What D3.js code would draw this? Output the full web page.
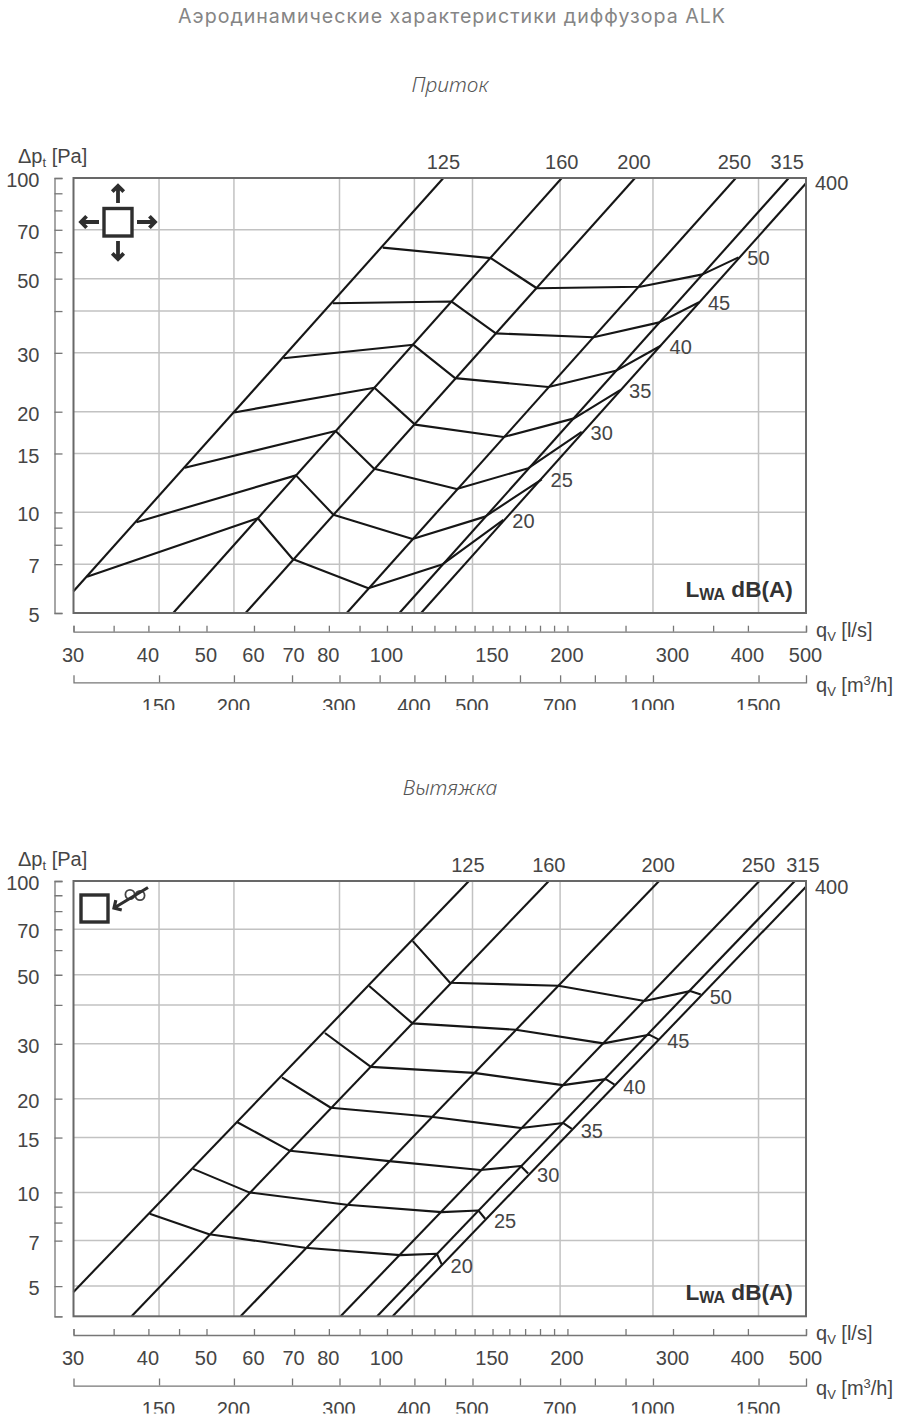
<!DOCTYPE html>
<html>
<head>
<meta charset="utf-8">
<script src="https://cdn.jsdelivr.net/npm/d3@7"></script>
<style>
body { margin: 0; background: #fff; }
svg { display: block; }
text { font-family: "Liberation Sans", Arial, sans-serif; fill: #454545; }
.num text, text.num { font-size: 20px; }
.title { font-family: "Inter", sans-serif; font-weight: 400; font-size: 19.6px; fill: #858585; letter-spacing: 1px; }
.sub { font-family: "Noto Sans", sans-serif; font-style: italic; font-weight: 300; font-size: 21px; fill: #555; }
</style>
</head>
<body>
<script>
//chart values, q in l/s and dp in Pa
var sizeLabels = ["125", "160", "200", "250", "315", "400"];
var levelLabels = ["50", "45", "40", "35", "30", "25", "20"];

var flowTicks = [30, 35, 40, 45, 50, 60, 70, 80, 90, 100, 110, 120, 130, 140, 150, 160, 170, 180, 190, 200, 250, 300, 350, 400, 500];
var flowLabels = [30, 40, 50, 60, 70, 80, 100, 150, 200, 300, 400, 500];
var volumeTicks = [150, 200, 250, 300, 350, 400, 450, 500, 600, 700, 800, 900, 1000, 1500];
var volumeLabels = [150, 200, 300, 400, 500, 700, 1000, 1500];
var volumeGrid = [150, 200, 300, 400, 500, 700, 1000, 1500];
var pressureTicks = [100, 90, 80, 70, 60, 50, 40, 30, 20, 15, 10, 9, 8, 7, 5];
var pressureLabels = [100, 70, 50, 30, 20, 15, 10, 7, 5];
var supplyGrid = [70, 50, 40, 30, 20, 15, 10, 7];
var extractGrid = [70, 50, 40, 30, 20, 15, 10, 7, 5];

var supplySizes = [
    [[30, 5.81], [124.2, 100]],
    [[44.0, 5], [195.7, 100]],
    [[58.1, 5], [259.3, 100]],
    [[85.7, 5], [381.9, 100]],
    [[104.9, 5], [468, 100]],
    [[114, 5], [500, 96.4]]
];
var supply50 = [[98.4, 61.9], [149.0, 57.6], [177.8, 46.8], [264.4, 47.3], [336, 51.5], [385.8, 57.9]];
var supply45 = [[81.2, 42.2], [128.2, 42.7], [151.9, 34.3], [221, 33.4], [284.7, 37.0], [331.6, 42.5]];
var supply40 = [[67.2, 28.9], [110.7, 31.7], [129.9, 25.2], [185.9, 23.7], [240.8, 26.5], [286.2, 31.5]];
var supply35 = [[55.6, 19.9], [95.3, 23.6], [111.4, 18.3], [156.4, 16.8], [205.2, 19.1], [244.9, 23.2]];
var supply30 = [[46.0, 13.6], [82.1, 17.5], [95.2, 13.5], [130.7, 11.75], [172.1, 13.55], [211.3, 17.4]];
var supply25 = [[38.2, 9.34], [70.5, 12.9], [81.4, 9.84], [110.3, 8.33], [145.8, 9.71], [181.2, 12.56]];
var supply20 = [[31.6, 6.42], [60.9, 9.60], [69.6, 7.25], [93.1, 5.93], [123.9, 7.00], [156.4, 9.49]];

var extractSizes = [
    [[30, 4.79], [137.0, 100]],
    [[37.5, 4], [186.2, 100]],
    [[57.0, 4], [284.4, 100]],
    [[83.7, 4], [418, 100]],
    [[96.3, 4], [479, 100]],
    [[102.2, 4], [500, 95.9]]
];
var extract50 = [[110.4, 64.1], [127.4, 47.1], [193.2, 46.1], [268.9, 41.2], [320.4, 44.3], [333.8, 43.2]];
var extract45 = [[93.4, 46.0], [110.3, 34.9], [164, 33.3], [229.6, 30.1], [273.7, 32.1], [283.6, 31.0]];
var extract40 = [[78.8, 32.5], [94.0, 25.3], [139.7, 24.2], [196.5, 22.1], [231.8, 23.1], [239.6, 22.2]];
var extract35 = [[66.8, 23.4], [80.6, 18.7], [118.4, 17.5], [167.4, 16.1], [196.9, 16.7], [203.4, 16.0]];
var extract30 = [[56.3, 16.8], [68.9, 13.6], [100.9, 12.6], [143.3, 11.8], [167.2, 12.15], [172, 11.5]];
var extract25 = [[47.5, 11.9], [58.9, 10.0], [85.7, 9.13], [123.4, 8.64], [142, 8.75], [145.8, 8.23]];
var extract20 = [[40.2, 8.54], [50.5, 7.34], [73.0, 6.64], [105.2, 6.29], [121.1, 6.35], [123.4, 5.87]];

var left = 73.5, right = 806;

var svg = d3.select("body").append("svg")
    .attr("width", 900)
    .attr("height", 1421);

svg.append("text").attr("class", "title").attr("x", 452).attr("y", 23)
    .attr("text-anchor", "middle").text("Аэродинамические характеристики диффузора ALK");
svg.append("text").attr("class", "sub").attr("x", 450).attr("y", 92)
    .attr("text-anchor", "middle").text("Приток");
svg.append("text").attr("class", "sub").attr("x", 450).attr("y", 795)
    .attr("text-anchor", "middle").text("Вытяжка");

//x scales are shared, m3/h is the same log axis times 3.6
var xScale = d3.scaleLog().domain([30, 500]).range([left, right]);
var volumeScale = d3.scaleLog().domain([30 * 3.6, 500 * 3.6]).range([left, right]);

drawChart({
    top: 178, bottom: 613, minP: 5, ticks: pressureTicks, grid: supplyGrid,
    sizes: supplySizes, levels: [supply50, supply45, supply40, supply35, supply30, supply25, supply20],
    shift: [0, 0, -1, -1.5, -1.5], clipBottom: 710, labelDy: 1
});
drawChart({
    top: 881, bottom: 1316.3, minP: 4, ticks: pressureTicks.concat([4]), grid: extractGrid,
    sizes: extractSizes, levels: [extract50, extract45, extract40, extract35, extract30, extract25, extract20],
    shift: [-1, 0, -1, -1, 8], clipBottom: 1413.5, labelDy: 2
});

drawSupplyIcon();
drawExtractIcon();

function drawChart(c) {
    var yScale = d3.scaleLog().domain([c.minP, 100]).range([c.bottom, c.top]);
    var line = d3.line()
        .x(function(d) { return xScale(d[0]); })
        .y(function(d) { return yScale(d[1]); });
    var id = "clip" + c.top;

    svg.append("clipPath").attr("id", id).append("rect")
        .attr("width", 900).attr("y", c.top - 60).attr("height", c.clipBottom - c.top + 60);
    var g = svg.append("g").attr("clip-path", "url(#" + id + ")");

    //grid
    g.selectAll(".gy").data(c.grid).enter().append("line")
        .attr("x1", left).attr("x2", right)
        .attr("y1", function(d) { return yScale(d); })
        .attr("y2", function(d) { return yScale(d); })
        .attr("stroke", "#c2c2c2").attr("stroke-width", 1.5);
    g.selectAll(".gx").data(volumeGrid).enter().append("line")
        .attr("y1", c.top).attr("y2", c.bottom)
        .attr("x1", function(d) { return volumeScale(d); })
        .attr("x2", function(d) { return volumeScale(d); })
        .attr("stroke", "#c2c2c2").attr("stroke-width", 1.5);

    //diffuser size lines
    g.selectAll(".size").data(c.sizes).enter().append("path")
        .attr("d", line).attr("fill", "none")
        .attr("stroke", "#161616").attr("stroke-width", 2.1);

    //sound level lines
    g.selectAll(".level").data(c.levels).enter().append("path")
        .attr("d", line).attr("fill", "none")
        .attr("stroke", "#161616").attr("stroke-width", 2.1).attr("stroke-linejoin", "round");

    //frame
    g.append("rect")
        .attr("x", left).attr("y", c.top)
        .attr("width", right - left).attr("height", c.bottom - c.top)
        .attr("fill", "none").attr("stroke", "#686868").attr("stroke-width", 2);

    //pressure axis
    var yAxis = d3.axisLeft(yScale)
        .tickValues(c.ticks)
        .tickSize(-8)
        .tickPadding(15)
        .tickFormat(function(d) { return pressureLabels.indexOf(d) >= 0 ? d : ""; });
    styleAxis(g.append("g").attr("class", "num")
        .attr("transform", "translate(54.5,0)")
        .call(yAxis))
        .selectAll("text").attr("dy", "0.43em");

    //l/s axis
    var flowAxis = d3.axisBottom(xScale)
        .tickValues(flowTicks)
        .tickSize(-6)
        .tickPadding(16)
        .tickFormat(function(d) { return flowLabels.indexOf(d) >= 0 ? d : ""; });
    var fa = styleAxis(g.append("g").attr("class", "num")
        .attr("transform", "translate(0," + (c.bottom + 18.7) + ")")
        .call(flowAxis));
    fa.selectAll("text").attr("dx", -1);

    //m3/h axis
    var volumeAxis = d3.axisBottom(volumeScale)
        .tickValues(volumeTicks)
        .tickSize(-7)
        .tickPadding(16.5)
        .tickFormat(function(d) { return volumeLabels.indexOf(d) >= 0 ? d : ""; });
    var va = styleAxis(g.append("g").attr("class", "num")
        .attr("transform", "translate(0," + (c.bottom + 69.3) + ")")
        .call(volumeAxis));
    va.selectAll("text").attr("dx", -1);

    //size labels above the frame
    g.selectAll(".sl").data(sizeLabels.slice(0, 5)).enter().append("text")
        .attr("class", "num")
        .attr("text-anchor", "middle")
        .attr("x", function(d, i) { return xScale(c.sizes[i][1][0]) + c.shift[i]; })
        .attr("y", c.top - 9)
        .text(function(d) { return d; });
    g.append("text").attr("class", "num")
        .attr("x", 815)
        .attr("y", yScale(c.sizes[5][1][1]) + 7)
        .text(sizeLabels[5]);

    //level labels next to the last point of each line
    g.selectAll(".ll").data(c.levels).enter().append("text")
        .attr("class", "num")
        .attr("text-anchor", "middle")
        .attr("x", function(d) { return xScale(d[5][0]) + 20; })
        .attr("y", function(d) { return yScale(d[5][1]) + 7 + c.labelDy; })
        .text(function(d, i) { return levelLabels[i]; });

    //unit labels
    g.append("text").attr("class", "num").attr("x", 18).attr("y", c.top - 14.7)
        .html('Δp<tspan dy="4" font-size="13">t</tspan><tspan dy="-4"> [Pa]</tspan>');
    g.append("text").attr("class", "num").attr("x", 816).attr("y", c.bottom + 24)
        .html('q<tspan dy="4" font-size="13">V</tspan><tspan dy="-4"> [l/s]</tspan>');
    g.append("text").attr("class", "num").attr("x", 816).attr("y", c.bottom + 78.7)
        .html('q<tspan dy="4" font-size="13">V</tspan><tspan dy="-4"> [m</tspan><tspan dy="-7" font-size="13">3</tspan><tspan dy="7">/h]</tspan>');

    g.append("text").attr("x", 685.5).attr("y", c.bottom - 16.5)
        .attr("font-weight", "bold").attr("font-size", 22.6).style("fill", "#333")
        .html('L<tspan dy="3" font-size="16">WA</tspan><tspan dy="-3"> dB(A)</tspan>');
}

function styleAxis(a) {
    a.selectAll("path").attr("stroke", "#777").attr("stroke-width", 1.3);
    a.selectAll("line").attr("stroke", "#777").attr("stroke-width", 1.3);
    a.attr("font-family", null).attr("font-size", null);
    return a;
}

function arrow(g, x1, y1, x2, y2, w) {
    var a = Math.atan2(y2 - y1, x2 - x1), s = 8;
    g.append("path")
        .attr("d", "M" + x1 + " " + y1 + "L" + x2 + " " + y2 +
            "M" + (x2 - s * Math.cos(a - 0.8)) + " " + (y2 - s * Math.sin(a - 0.8)) +
            "L" + x2 + " " + y2 +
            "L" + (x2 - s * Math.cos(a + 0.8)) + " " + (y2 - s * Math.sin(a + 0.8)))
        .attr("fill", "none").attr("stroke", "#2e2e2e").attr("stroke-width", w);
}

function drawSupplyIcon() {
    var g = svg.append("g");
    g.append("rect").attr("x", 104).attr("y", 208.5).attr("width", 28).attr("height", 27.5)
        .attr("fill", "#fff").attr("stroke", "#2e2e2e").attr("stroke-width", 3.4);
    arrow(g, 118, 203, 118, 186, 3.8);
    arrow(g, 118, 241, 118, 259, 3.8);
    arrow(g, 99, 222, 81, 222, 3.8);
    arrow(g, 137, 222, 155, 222, 3.8);
}

function drawExtractIcon() {
    var g = svg.append("g");
    g.append("rect").attr("x", 81).attr("y", 895).attr("width", 27).attr("height", 27)
        .attr("fill", "#fff").attr("stroke", "#2e2e2e").attr("stroke-width", 3.4);
    g.append("circle").attr("cx", 130).attr("cy", 894.5).attr("r", 4.6)
        .attr("fill", "none").attr("stroke", "#444").attr("stroke-width", 1.8);
    g.append("circle").attr("cx", 140).attr("cy", 895.5).attr("r", 4.6)
        .attr("fill", "none").attr("stroke", "#444").attr("stroke-width", 1.8);
    arrow(g, 148, 887.5, 114, 908, 3.2);
}
</script>
</body>
</html>
